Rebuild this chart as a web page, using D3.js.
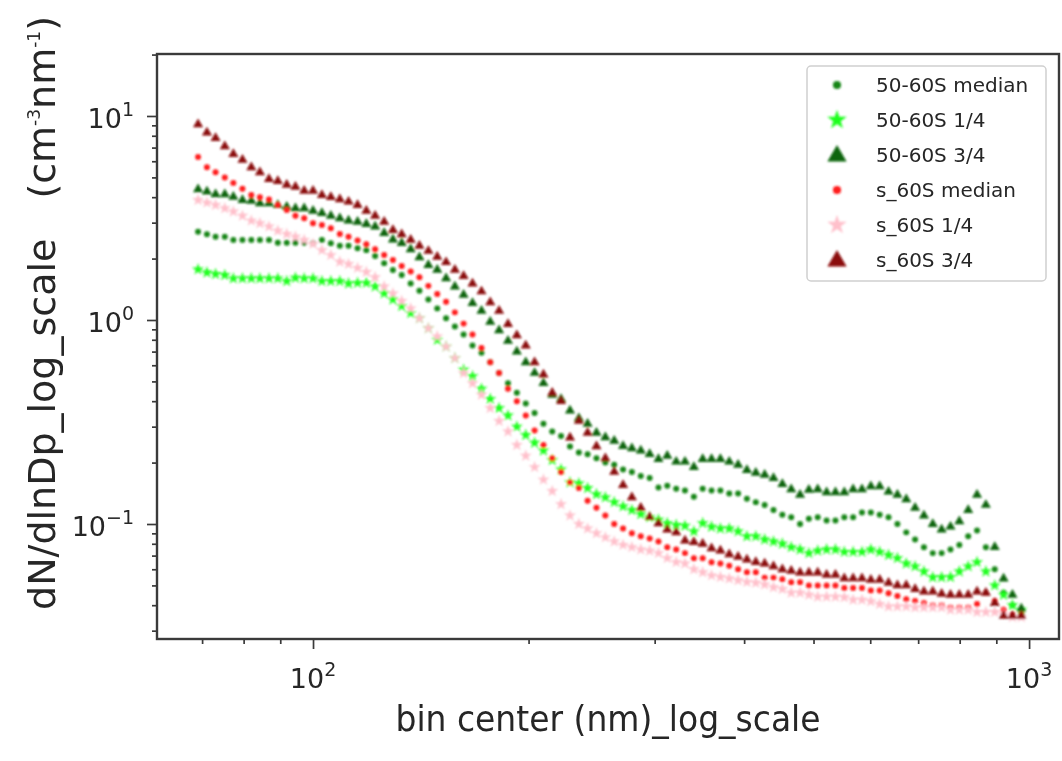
<!DOCTYPE html>
<html>
<head>
<meta charset="utf-8">
<script src="https://cdn.jsdelivr.net/npm/d3@7/dist/d3.min.js"></script>
<style>
  html, body { margin: 0; padding: 0; background: #fff; }
  svg { display: block; }
  text { font-family: "DejaVu Sans", sans-serif; fill: #262626; }
</style>
</head>
<body>
<svg id="chart" width="1062" height="761"></svg>
<script>
// ---------------- data ----------------
const binCenters = [69.1, 71.1, 73.1, 75.3, 77.4, 79.7, 82.0, 84.3, 86.8, 89.3,
  91.9, 94.5, 97.2, 100.0, 102.9, 105.9, 109.0, 112.1, 115.4, 118.7,
  122.1, 125.7, 129.3, 133.0, 136.9, 140.8, 144.9, 149.1, 153.4, 157.8,
  162.3, 167.0, 171.9, 176.8, 181.9, 187.2, 192.6, 198.2, 203.9, 209.8,
  215.8, 222.0, 228.5, 235.1, 241.8, 248.8, 256.0, 263.4, 271.0, 278.8,
  286.9, 295.2, 303.7, 312.4, 321.5, 330.7, 340.3, 350.1, 360.2, 370.6,
  381.3, 392.3, 403.6, 415.3, 427.3, 439.6, 452.3, 465.4, 478.8, 492.6,
  506.8, 521.5, 536.5, 552.0, 567.9, 584.3, 601.2, 618.5, 636.4, 654.8,
  673.7, 693.1, 713.1, 733.7, 754.9, 776.7, 799.1, 822.2, 845.9, 870.3,
  895.5, 921.3, 947.9, 975.3];

const s5060Median = [2.71, 2.63, 2.56, 2.56, 2.47, 2.47, 2.47, 2.47, 2.47, 2.39,
  2.39, 2.39, 2.39, 2.38, 2.47, 2.38, 2.31, 2.31, 2.25, 2.20,
  2.06, 1.90, 1.76, 1.66, 1.51, 1.39, 1.26, 1.14, 1.02, 0.93,
  0.85, 0.75, 0.69, 0.62, 0.55, 0.49, 0.44, 0.39, 0.35, 0.31,
  0.284, 0.27, 0.24, 0.224, 0.22, 0.21, 0.20, 0.195, 0.185, 0.18,
  0.172, 0.168, 0.151, 0.154, 0.149, 0.146, 0.136, 0.149, 0.146, 0.146,
  0.141, 0.141, 0.133, 0.128, 0.124, 0.117, 0.111, 0.108, 0.100, 0.106,
  0.108, 0.104, 0.104, 0.108, 0.108, 0.114, 0.114, 0.111, 0.108, 0.100,
  0.091, 0.084, 0.077, 0.072, 0.072, 0.075, 0.079, 0.087, 0.093, 0.077,
  0.060, 0.046, 0.040, 0.036];

const s5060Q1 = [1.77, 1.71, 1.68, 1.66, 1.60, 1.60, 1.60, 1.60, 1.60, 1.60,
  1.55, 1.61, 1.60, 1.60, 1.55, 1.55, 1.55, 1.51, 1.52, 1.52,
  1.46, 1.35, 1.26, 1.17, 1.08, 1.02, 0.91, 0.80, 0.74, 0.65,
  0.57, 0.53, 0.46, 0.41, 0.37, 0.34, 0.30, 0.273, 0.25, 0.229,
  0.206, 0.185, 0.16, 0.158, 0.15, 0.14, 0.135, 0.128, 0.122, 0.117,
  0.112, 0.108, 0.105, 0.101, 0.099, 0.098, 0.092, 0.101, 0.097, 0.095,
  0.095, 0.092, 0.087, 0.087, 0.084, 0.082, 0.080, 0.077, 0.075, 0.072,
  0.074, 0.075, 0.075, 0.073, 0.073, 0.073, 0.075, 0.073, 0.0705, 0.068,
  0.064, 0.062, 0.0585, 0.0548, 0.0548, 0.055, 0.0585, 0.062, 0.065, 0.0585,
  0.050, 0.045, 0.040, 0.038];

const s5060Q3 = [4.37, 4.26, 4.13, 4.13, 4.02, 3.87, 3.84, 3.73, 3.73, 3.66,
  3.59, 3.53, 3.53, 3.43, 3.34, 3.24, 3.15, 3.07, 3.03, 2.95,
  2.87, 2.67, 2.48, 2.38, 2.22, 2.03, 1.86, 1.76, 1.60, 1.46,
  1.33, 1.21, 1.11, 0.98, 0.89, 0.79, 0.70, 0.62, 0.55, 0.49,
  0.43, 0.41, 0.36, 0.33, 0.31, 0.28, 0.266, 0.256, 0.241, 0.235,
  0.229, 0.22, 0.208, 0.216, 0.202, 0.202, 0.190, 0.208, 0.208, 0.208,
  0.202, 0.195, 0.184, 0.178, 0.174, 0.168, 0.157, 0.148, 0.139, 0.147,
  0.148, 0.143, 0.143, 0.143, 0.148, 0.148, 0.153, 0.153, 0.144, 0.139,
  0.132, 0.120, 0.110, 0.100, 0.094, 0.097, 0.103, 0.117, 0.139, 0.124,
  0.077, 0.054, 0.045, 0.0385];

const s60Median = [6.3, 5.6, 5.3, 5.0, 4.7, 4.4, 4.1, 4.0, 3.9, 3.66,
  3.46, 3.24, 3.15, 2.98, 2.92, 2.82, 2.64, 2.56, 2.45, 2.35,
  2.22, 2.08, 1.97, 1.84, 1.73, 1.62, 1.47, 1.34, 1.23, 1.09,
  0.96, 0.85, 0.73, 0.62, 0.55, 0.46, 0.40, 0.34, 0.287, 0.244,
  0.21, 0.18, 0.16, 0.15, 0.13, 0.12, 0.11, 0.10, 0.095, 0.09,
  0.087, 0.085, 0.082, 0.077, 0.075, 0.072, 0.068, 0.068, 0.065, 0.064,
  0.0625, 0.060, 0.058, 0.058, 0.0546, 0.0546, 0.0536, 0.0518, 0.0518, 0.050,
  0.050, 0.050, 0.050, 0.0486, 0.0486, 0.0486, 0.0472, 0.0472, 0.0458, 0.0444,
  0.0428, 0.042, 0.041, 0.040, 0.040, 0.039, 0.039, 0.039, 0.0405, 0.046,
  0.042, 0.038, 0.036, 0.036];

const s60Q1 = [3.87, 3.76, 3.66, 3.53, 3.40, 3.24, 3.07, 2.98, 2.87, 2.74,
  2.64, 2.56, 2.47, 2.36, 2.20, 2.08, 1.93, 1.88, 1.80, 1.72,
  1.62, 1.46, 1.35, 1.24, 1.14, 1.02, 0.91, 0.83, 0.74, 0.65,
  0.55, 0.49, 0.43, 0.37, 0.32, 0.284, 0.244, 0.216, 0.19, 0.165,
  0.145, 0.125, 0.11, 0.10, 0.095, 0.09, 0.086, 0.082, 0.079, 0.077,
  0.075, 0.074, 0.072, 0.068, 0.065, 0.064, 0.060, 0.058, 0.056, 0.055,
  0.054, 0.053, 0.052, 0.0515, 0.0505, 0.049, 0.048, 0.046, 0.046, 0.045,
  0.044, 0.044, 0.044, 0.0437, 0.0425, 0.0425, 0.0418, 0.0405, 0.0394, 0.0394,
  0.0394, 0.039, 0.039, 0.039, 0.039, 0.038, 0.038, 0.038, 0.037, 0.037,
  0.037, 0.036, 0.035, 0.035];

const s60Q3 = [9.1, 8.3, 7.8, 7.1, 6.5, 6.1, 5.6, 5.3, 4.9, 4.8,
  4.6, 4.5, 4.3, 4.3, 4.1, 4.0, 3.9, 3.8, 3.66, 3.43,
  3.24, 3.03, 2.76, 2.63, 2.47, 2.31, 2.18, 2.04, 1.92, 1.76,
  1.64, 1.51, 1.38, 1.22, 1.11, 0.955, 0.84, 0.75, 0.62, 0.54,
  0.44, 0.40, 0.265, 0.32, 0.28, 0.24, 0.21, 0.18, 0.155, 0.135,
  0.12, 0.108, 0.1007, 0.094, 0.091, 0.083, 0.0815, 0.080, 0.076, 0.074,
  0.071, 0.069, 0.067, 0.065, 0.064, 0.062, 0.060, 0.0589, 0.0578, 0.0578,
  0.0578, 0.0563, 0.0563, 0.0542, 0.0542, 0.0542, 0.0533, 0.0533, 0.0515, 0.050,
  0.050, 0.048, 0.0467, 0.0467, 0.0455, 0.045, 0.045, 0.045, 0.0467, 0.046,
  0.041, 0.0355, 0.0355, 0.0355];

const seriesNames = ["50-60S median", "50-60S 1/4", "50-60S 3/4", "s_60S median", "s_60S 1/4", "s_60S 3/4"];
const seriesValues = [s5060Median, s5060Q1, s5060Q3, s60Median, s60Q1, s60Q3];
const seriesColors = ["#168616", "#1aff1a", "#0b650b", "#ff1a1a", "#ffc0cb", "#8b0a0a"];
const seriesShapes = ["circle", "star", "triangle", "circle", "star", "triangle"];

const xMajorTicks = [100, 1000];
const xMajorExp = ["2", "3"];
const yMajorTicks = [0.1, 1, 10];
const yMajorExp = ["\u22121", "0", "1"];

const xLabel = "bin center (nm)_log_scale";
const yLabelMain = "dN/dlnDp_log_scale";

// ---------------- layout ----------------
const L = 157, R = 1059, T = 54, B = 639;
const x = d3.scaleLog().domain([60.55, 1101]).range([L, R]);
const y = d3.scaleLog().domain([0.02731, 20.13]).range([B, T]);

const svg = d3.select("#chart");
svg.append("rect").attr("width", 1062).attr("height", 761).attr("fill", "#fff");

const defs = svg.append("defs");
defs.append("filter").attr("id", "soft").attr("x", "-50%").attr("y", "-50%").attr("width", "200%").attr("height", "200%")
  .append("feGaussianBlur").attr("stdDeviation", 0.9);
defs.append("filter").attr("id", "softText").attr("x", "-5%").attr("y", "-20%").attr("width", "110%").attr("height", "140%")
  .append("feGaussianBlur").attr("stdDeviation", 0.35);

const symType = { circle: d3.symbolCircle, star: d3.symbolStar, triangle: d3.symbolTriangle };
const plotSize = { circle: 28, star: 46, triangle: 44 };
const legSize = { circle: 52, star: 118, triangle: 160 };

// points
const pts = svg.append("g").attr("filter", "url(#soft)");
seriesValues.forEach((vals, si) => {
  const sym = d3.symbol().type(symType[seriesShapes[si]]).size(plotSize[seriesShapes[si]]);
  pts.append("g").selectAll("path")
    .data(vals.map((v, i) => [binCenters[i], v]))
    .join("path")
    .attr("transform", d => `translate(${x(d[0])},${y(d[1])})`)
    .attr("d", sym)
    .attr("fill", seriesColors[si]);
});

// axes
function styleAxis(g) {
  g.select(".domain").remove();
  g.selectAll(".tick line").attr("stroke", "#3a3a3a").attr("stroke-width", 1.7);
}
const xMinor = x.ticks().filter(v => !xMajorTicks.some(m => Math.abs(m - v) < 1e-9));
const yMinor = y.ticks().filter(v => !yMajorTicks.some(m => Math.abs(m - v) < 1e-12));

svg.append("g").attr("transform", `translate(0,${B})`)
  .call(d3.axisBottom(x).tickValues(xMajorTicks).tickSize(10).tickFormat(""))
  .call(styleAxis);
svg.append("g").attr("transform", `translate(0,${B})`)
  .call(d3.axisBottom(x).tickValues(xMinor).tickSize(5).tickFormat(""))
  .call(styleAxis);
svg.append("g").attr("transform", `translate(${L},0)`)
  .call(d3.axisLeft(y).tickValues(yMajorTicks).tickSize(10).tickFormat(""))
  .call(styleAxis);
svg.append("g").attr("transform", `translate(${L},0)`)
  .call(d3.axisLeft(y).tickValues(yMinor).tickSize(5).tickFormat(""))
  .call(styleAxis);

// frame
svg.append("rect").attr("x", L).attr("y", T).attr("width", R - L).attr("height", B - T)
  .attr("fill", "none").attr("stroke", "#3a3a3a").attr("stroke-width", 2.4);

// tick labels
const txt = svg.append("g").attr("filter", "url(#softText)");
xMajorTicks.forEach((v, i) => {
  const t = txt.append("text").attr("x", x(v)).attr("y", 688).attr("text-anchor", "middle")
    .attr("font-size", 27);
  t.append("tspan").text("10");
  t.append("tspan").attr("font-size", 19).attr("dy", -12).text(xMajorExp[i]);
});
yMajorTicks.forEach((v, i) => {
  const t = txt.append("text").attr("x", 134).attr("y", y(v) + 12).attr("text-anchor", "end")
    .attr("font-size", 27);
  t.append("tspan").text("10");
  t.append("tspan").attr("font-size", 19).attr("dy", -12).text(yMajorExp[i]);
});

// axis labels
txt.append("text").attr("transform", "translate(608,731) scale(1,1.1)").attr("text-anchor", "middle")
  .attr("font-size", 33).text(xLabel);

const yl = txt.append("text").attr("transform", "translate(55,313) rotate(-90)")
  .attr("text-anchor", "middle").attr("font-size", 38);
yl.append("tspan").text(yLabelMain);
yl.append("tspan").attr("dx", 40).text("(cm");
yl.append("tspan").attr("font-size", 17).attr("dy", -15).text("-3");
yl.append("tspan").attr("dy", 15).text("nm");
yl.append("tspan").attr("font-size", 17).attr("dy", -15).text("-1");
yl.append("tspan").attr("dy", 15).text(")");

// legend
const lg = svg.append("g");
lg.append("rect").attr("x", 807).attr("y", 66).attr("width", 239).attr("height", 215)
  .attr("rx", 4).attr("fill", "#fff").attr("fill-opacity", 0.85)
  .attr("stroke", "#d0d0d0").attr("stroke-width", 1.5);
seriesNames.forEach((name, i) => {
  const cy = 85 + i * 35;
  const sym = d3.symbol().type(symType[seriesShapes[i]]).size(legSize[seriesShapes[i]]);
  lg.append("path").attr("transform", `translate(837,${cy + (seriesShapes[i] === "triangle" ? 1 : 0)})`)
    .attr("d", sym).attr("fill", seriesColors[i]).attr("filter", "url(#soft)");
  lg.append("text").attr("x", 876).attr("y", cy + 7).attr("font-size", 20)
    .attr("filter", "url(#softText)").text(name);
});
</script>
</body>
</html>
